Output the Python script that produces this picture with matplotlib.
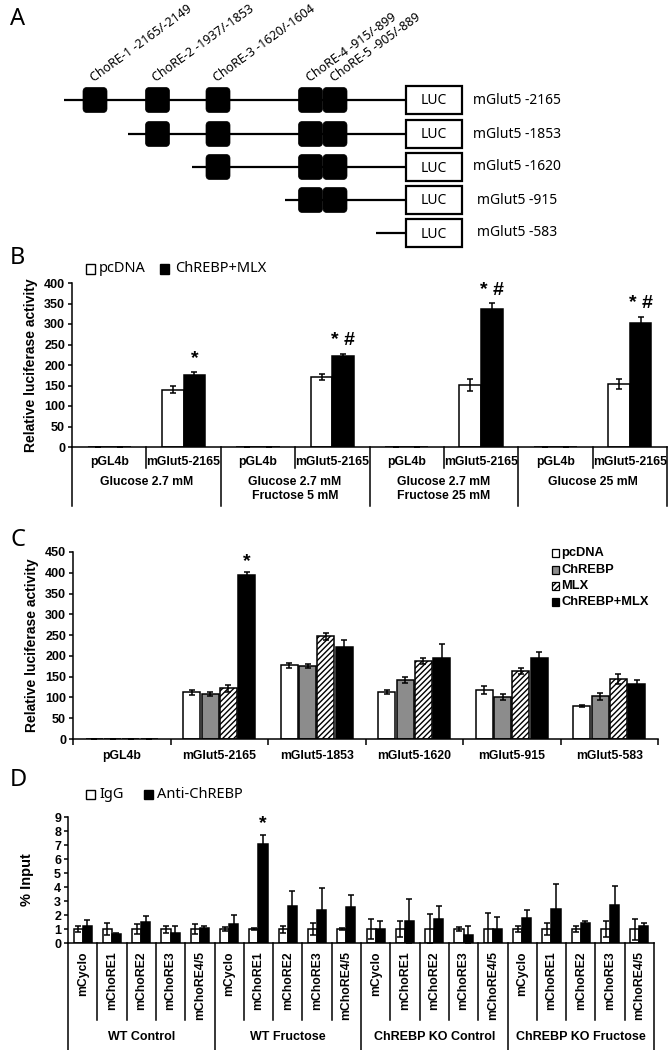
import matplotlib
matplotlib.use("Agg")
import matplotlib.pyplot as plt
from matplotlib.patches import FancyBboxPatch, Rectangle
from matplotlib.transforms import blended_transform_factory
import numpy as np

# ---------------- data ----------------
# Panel A
chore_labels = ["ChoRE-1 -2165/-2149", "ChoRE-2 -1937/-1853", "ChoRE-3 -1620/-1604",
                "ChoRE-4 -915/-899", "ChoRE-5 -905/-889"]
construct_labels = ["mGlut5 -2165", "mGlut5 -1853", "mGlut5 -1620", "mGlut5 -915", "mGlut5 -583"]
construct_first_chore = [0, 1, 2, 3, 5]

# Panel B
b_group_labels = ["Glucose 2.7 mM", "Glucose 2.7 mM\nFructose 5 mM",
                  "Glucose 2.7 mM\nFructose 25 mM", "Glucose 25 mM"]
b_construct_labels = ["pGL4b", "mGlut5-2165"]
b_series = ["pcDNA", "ChREBP+MLX"]
b_pcdna = [1, 140, 1, 171, 1, 151, 1, 154]
b_pcdna_err = [0, 8, 0, 7, 0, 15, 0, 12]
b_chrebp_mlx = [1, 176, 1, 223, 1, 336, 1, 303]
b_chrebp_mlx_err = [0, 8, 0, 5, 0, 16, 0, 15]
b_marks = ["", "*", "", "* #", "", "* #", "", "* #"]
b_yticks = [0, 50, 100, 150, 200, 250, 300, 350, 400]

# Panel C
c_categories = ["pGL4b", "mGlut5-2165", "mGlut5-1853", "mGlut5-1620", "mGlut5-915", "mGlut5-583"]
c_series = ["pcDNA", "ChREBP", "MLX", "ChREBP+MLX"]
c_pcdna = [1, 113, 177, 113, 118, 80]
c_pcdna_err = [0, 6, 7, 4, 9, 3]
c_chrebp = [1, 108, 175, 141, 102, 103]
c_chrebp_err = [0, 4, 5, 7, 7, 8]
c_mlx = [1, 122, 247, 188, 164, 145]
c_mlx_err = [0, 8, 8, 8, 8, 12]
c_chrebp_mlx = [1, 395, 221, 196, 196, 132]
c_chrebp_mlx_err = [0, 6, 18, 32, 13, 10]
c_marks = ["", "*", "", "", "", ""]
c_yticks = [0, 50, 100, 150, 200, 250, 300, 350, 400, 450]

# Panel D
d_groups = ["WT Control", "WT Fructose", "ChREBP KO Control", "ChREBP KO Fructose"]
d_sites = ["mCyclo", "mChoRE1", "mChoRE2", "mChoRE3", "mChoRE4/5"]
d_series = ["IgG", "Anti-ChREBP"]
d_igg = [1.0, 1.0, 1.0, 1.0, 1.0,
         1.0, 1.0, 1.0, 1.0, 1.0,
         1.0, 1.0, 1.0, 1.0, 1.0,
         1.0, 1.0, 1.0, 1.0, 1.0]
d_igg_err = [0.2, 0.45, 0.35, 0.25, 0.35,
             0.15, 0.1, 0.25, 0.45, 0.1,
             0.7, 0.55, 1.1, 0.15, 1.15,
             0.2, 0.45, 0.2, 0.6, 0.75]
d_anti = [1.25, 0.65, 1.5, 0.75, 1.1,
          1.35, 7.1, 2.65, 2.35, 2.6,
          1.0, 1.55, 1.7, 0.6, 1.0,
          1.8, 2.4, 1.4, 2.7, 1.25]
d_anti_err = [0.4, 0.05, 0.4, 0.5, 0.15,
              0.65, 0.6, 1.1, 1.6, 0.85,
              0.6, 1.6, 0.95, 0.65, 0.85,
              0.55, 1.8, 0.15, 1.35, 0.15]
d_marks = ["", "", "", "", "", "", "*", "", "", "",
           "", "", "", "", "", "", "", "", "", ""]
d_yticks = [0, 1, 2, 3, 4, 5, 6, 7, 8, 9]

# ---------------- layout helpers ----------------
W, H = 670, 1050
fig = plt.figure(figsize=(W / 100, H / 100), dpi=100)
fig.patch.set_facecolor("white")

AX_FONT = "Liberation Sans"
TX_FONT = ["Noto Sans", "DejaVu Sans"]


def rect(x0, y0, x1, y1):
    return [x0 / W, 1 - y1 / H, (x1 - x0) / W, (y1 - y0) / H]


ov = fig.add_axes([0, 0, 1, 1])
ov.set_xlim(0, W)
ov.set_ylim(H, 0)
ov.axis("off")
ov.patch.set_visible(False)


def panel_letter(x, y, s):
    ov.text(x, y, s, fontsize=17, fontweight="bold", family=TX_FONT, ha="left", va="center")


def style_axis(ax, yticks):
    for s in ("top", "right"):
        ax.spines[s].set_visible(False)
    ax.spines["left"].set_linewidth(1.1)
    ax.spines["bottom"].set_linewidth(1.1)
    ax.set_yticks(yticks)
    ax.set_ylim(yticks[0], yticks[-1])
    ax.tick_params(axis="y", direction="out", length=3, width=1.1, pad=2, labelsize=9)
    for lab in ax.get_yticklabels():
        lab.set_fontweight("bold")
        lab.set_family(AX_FONT)
    ax.patch.set_visible(False)


# ---------------- Panel A ----------------
panel_letter(10, 19, "A")
chore_x = [95, 157.5, 218, 310.5, 335]
row_y = [100, 134, 167, 200, 233]
row_start = [64, 128, 192, 285, 376]
luc_x0, luc_x1, luc_h = 406, 462, 28
box_w, box_h = 24, 25
for r, (lab, first) in enumerate(zip(construct_labels, construct_first_chore)):
    y = row_y[r]
    ov.plot([row_start[r], luc_x0], [y, y], color="black", lw=1.6, solid_capstyle="butt")
    for k in range(first, len(chore_labels)):
        ov.add_patch(FancyBboxPatch((chore_x[k] - box_w / 2, y - box_h / 2), box_w, box_h,
                                    boxstyle="round,pad=0,rounding_size=4",
                                    fc="black", ec="black", lw=0.5))
    ov.add_patch(Rectangle((luc_x0, y - luc_h / 2), luc_x1 - luc_x0, luc_h,
                           fc="white", ec="black", lw=1.6))
    ov.text((luc_x0 + luc_x1) / 2, y + 1, "LUC", ha="center", va="center",
            fontsize=10, family=TX_FONT)
    ov.text(517, y, lab, ha="center", va="center", fontsize=10, family=TX_FONT)
for k, lab in enumerate(chore_labels):
    ov.text(chore_x[k] - 1, row_y[0] - box_h / 2 - 5, lab, rotation=36, rotation_mode="anchor",
            ha="left", va="baseline", fontsize=9, family=TX_FONT)

# ---------------- Panel B ----------------
panel_letter(10, 258, "B")
axb = fig.add_axes(rect(72, 283, 667, 447))
nb = len(b_pcdna)
xb = np.arange(nb) + 0.5
wb = 0.29
axb.bar(xb - wb / 2, b_pcdna, wb, color="white", edgecolor="black", lw=1.1, zorder=2)
axb.bar(xb + wb / 2, b_chrebp_mlx, wb, color="black", edgecolor="black", lw=1.1, zorder=2)
ek = dict(fmt="none", ecolor="black", elinewidth=1.1, capsize=2.5, capthick=1.1, zorder=3)
axb.errorbar(xb - wb / 2, b_pcdna, yerr=b_pcdna_err, **ek)
axb.errorbar(xb + wb / 2, b_chrebp_mlx, yerr=b_chrebp_mlx_err, **ek)
axb.set_xlim(0, nb)
axb.set_xticks([])
style_axis(axb, b_yticks)
axb.set_ylabel("Relative luciferase activity", fontsize=10, fontweight="bold", family=AX_FONT,
               labelpad=4)
for i in range(nb):
    if b_marks[i]:
        axb.annotate(b_marks[i], (xb[i] + wb / 2, b_chrebp_mlx[i] + b_chrebp_mlx_err[i]),
                     xytext=(0, 3), textcoords="offset points", ha="center", va="bottom",
                     fontsize=14, fontweight="bold", family=AX_FONT)
tb = blended_transform_factory(axb.transData, ov.transData)
for i in range(nb + 1):
    if i % 2 == 0:
        ov.plot([i, i], [447, 506], color="black", lw=1.1, transform=tb, clip_on=False)
    else:
        ov.plot([i, i], [447, 468], color="black", lw=1.1, transform=tb, clip_on=False)
for i in range(nb):
    ov.text(xb[i], 462, b_construct_labels[i % 2], transform=tb, ha="center", va="center",
            fontsize=8.8, fontweight="bold", family=AX_FONT)
for g, lab in enumerate(b_group_labels):
    ov.text(2 * g + 1, 476, lab, transform=tb, ha="center", va="top", linespacing=1.25,
            fontsize=8.8, fontweight="bold", family=AX_FONT)
# legend B
ov.add_patch(Rectangle((86, 264), 9, 10, fc="white", ec="black", lw=1.0))
ov.text(99, 269, b_series[0], ha="left", va="center", fontsize=10.5, family=TX_FONT)
ov.add_patch(Rectangle((160, 264), 9, 10, fc="black", ec="black", lw=1.0))
ov.text(175, 269, b_series[1], ha="left", va="center", fontsize=10.5, family=TX_FONT)

# ---------------- Panel C ----------------
panel_letter(10, 540, "C")
axc = fig.add_axes(rect(73, 552, 658, 739))
nc = len(c_categories)
xc = np.arange(nc) + 0.5
wc = 0.175
step = 0.187
c_vals = [c_pcdna, c_chrebp, c_mlx, c_chrebp_mlx]
c_errs = [c_pcdna_err, c_chrebp_err, c_mlx_err, c_chrebp_mlx_err]
c_face = ["white", "#8c8c8c", "white", "black"]
c_hatch = [None, None, "//////", None]
for j in range(4):
    off = (j - 1.5) * step
    axc.bar(xc + off, c_vals[j], wc, color=c_face[j], edgecolor="black", lw=1.1,
            hatch=c_hatch[j], zorder=2)
    axc.errorbar(xc + off, c_vals[j], yerr=c_errs[j], fmt="none", ecolor="black",
                 elinewidth=1.1, capsize=2.3, capthick=1.1, zorder=3)
axc.set_xlim(0, nc)
style_axis(axc, c_yticks)
axc.set_xticks(np.arange(nc + 1), minor=True)
axc.set_xticks(xc)
axc.set_xticklabels(c_categories)
axc.tick_params(axis="x", which="major", length=0, pad=8, labelsize=8.8)
axc.tick_params(axis="x", which="minor", direction="out", length=4, width=1.1)
for lab in axc.get_xticklabels():
    lab.set_fontweight("bold")
    lab.set_family(AX_FONT)
axc.set_ylabel("Relative luciferase activity", fontsize=10, fontweight="bold", family=AX_FONT,
               labelpad=4)
for i in range(nc):
    if c_marks[i]:
        axc.annotate(c_marks[i], (xc[i] + 1.5 * step, c_chrebp_mlx[i] + c_chrebp_mlx_err[i]),
                     xytext=(0, 2), textcoords="offset points", ha="center", va="bottom",
                     fontsize=14, fontweight="bold", family=AX_FONT)
# legend C
leg_y = [553, 570, 586, 602]
for j in range(4):
    ov.add_patch(Rectangle((552, leg_y[j] - 4), 7, 8, fc=c_face[j], ec="black", lw=0.9,
                           hatch=c_hatch[j]))
    ov.text(561, leg_y[j], c_series[j], ha="left", va="center", fontsize=9.3,
            fontweight="bold", family=AX_FONT)

# ---------------- Panel D ----------------
panel_letter(10, 780, "D")
axd = fig.add_axes(rect(68, 817, 654, 943))
nd = len(d_igg)
xd = np.arange(nd) + 0.5
wd = 0.31
axd.bar(xd - wd / 2, d_igg, wd, color="white", edgecolor="black", lw=1.1, zorder=2)
axd.bar(xd + wd / 2, d_anti, wd, color="black", edgecolor="black", lw=1.1, zorder=2)
ekd = dict(fmt="none", ecolor="black", elinewidth=1.1, capsize=2.2, capthick=1.1, zorder=3)
axd.errorbar(xd - wd / 2, d_igg, yerr=d_igg_err, **ekd)
axd.errorbar(xd + wd / 2, d_anti, yerr=d_anti_err, **ekd)
axd.set_xlim(0, nd)
axd.set_xticks([])
style_axis(axd, d_yticks)
axd.set_ylabel("% Input", fontsize=10.5, fontweight="bold", family=AX_FONT, labelpad=14)
for i in range(nd):
    if d_marks[i]:
        axd.annotate(d_marks[i], (xd[i] + wd / 2, d_anti[i] + d_anti_err[i]),
                     xytext=(0, 2), textcoords="offset points", ha="center", va="bottom",
                     fontsize=14, fontweight="bold", family=AX_FONT)
td = blended_transform_factory(axd.transData, ov.transData)
ns = len(d_sites)
for i in range(nd + 1):
    if i % ns == 0:
        ov.plot([i, i], [943, 1050], color="black", lw=1.1, transform=td, clip_on=False)
    else:
        ov.plot([i, i], [943, 1020], color="black", lw=1.1, transform=td, clip_on=False)
for i in range(nd):
    ov.text(xd[i], 951, d_sites[i % ns], transform=td, rotation=90, ha="center", va="top",
            fontsize=8.8, fontweight="bold", family=AX_FONT)
for g, lab in enumerate(d_groups):
    ov.text(ns * g + ns / 2, 1037, lab, transform=td, ha="center", va="center",
            fontsize=9, fontweight="bold", family=AX_FONT)
# legend D
ov.add_patch(Rectangle((86, 790), 9, 9, fc="white", ec="black", lw=1.0))
ov.text(99, 795, d_series[0], ha="left", va="center", fontsize=10.5, family=TX_FONT)
ov.add_patch(Rectangle((144, 790), 9, 9, fc="black", ec="black", lw=1.0))
ov.text(157, 795, d_series[1], ha="left", va="center", fontsize=10.5, family=TX_FONT)

fig.savefig("out.png", dpi=100, facecolor="white")
